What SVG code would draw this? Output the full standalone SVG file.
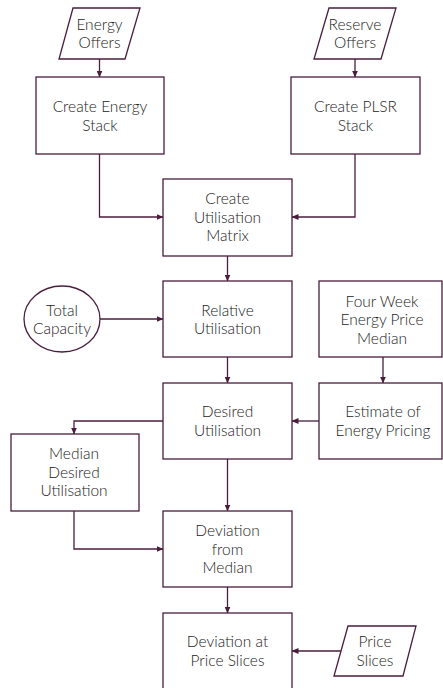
<svg xmlns="http://www.w3.org/2000/svg" width="443" height="688" viewBox="0 0 443 688">
<style>
.s{fill:#fff;stroke:#4a1d3d;stroke-width:1.3}
.c{fill:none;stroke:#4a1d3d;stroke-width:1.3}
text{font-family:Lato,"Open Sans","DejaVu Sans",sans-serif;font-weight:300;font-size:15.5px;fill:#222;text-anchor:middle}
</style>
<defs>
<marker id="a" markerWidth="7" markerHeight="6" refX="6.5" refY="3" orient="auto" markerUnits="userSpaceOnUse">
<path d="M0,0 L7,3 L0,6 Z" fill="#4a1d3d"/>
</marker>
</defs>
<rect width="443" height="688" fill="#fff"/>
<g id="connectors" class="c">
<path d="M99.5,59 V77" marker-end="url(#a)"/>
<path d="M355,59 V77" marker-end="url(#a)"/>
<path d="M99.5,154 V217 H163" marker-end="url(#a)"/>
<path d="M355,154 V217 H292" marker-end="url(#a)"/>
<path d="M227.5,256 V281" marker-end="url(#a)"/>
<path d="M100,319 H163" marker-end="url(#a)"/>
<path d="M227.5,357 V383" marker-end="url(#a)"/>
<path d="M383,357 V383" marker-end="url(#a)"/>
<path d="M319,421 H292" marker-end="url(#a)"/>
<path d="M163,421 H74 V434" marker-end="url(#a)"/>
<path d="M227.5,459 V511" marker-end="url(#a)"/>
<path d="M74,511 V549 H163" marker-end="url(#a)"/>
<path d="M227.5,587 V613" marker-end="url(#a)"/>
<path d="M341,651 H292" marker-end="url(#a)"/>
</g>
<g id="energy-offers"><polygon class="s" points="73,8 140,8 125,59 59,59"/><text x="99.5" y="29.5">Energy</text><text x="99.5" y="48">Offers</text></g>
<g id="reserve-offers"><polygon class="s" points="329,8 396,8 381,59 314,59"/><text x="355" y="29.5">Reserve</text><text x="355" y="48">Offers</text></g>
<g id="create-energy-stack"><rect class="s" x="36" y="77" width="128" height="77"/><text x="100" y="112">Create Energy</text><text x="100" y="130.5">Stack</text></g>
<g id="create-plsr-stack"><rect class="s" x="291" y="77" width="129" height="77"/><text x="355.5" y="112">Create PLSR</text><text x="355.5" y="130.5">Stack</text></g>
<g id="create-utilisation-matrix"><rect class="s" x="163" y="179" width="129" height="77"/><text x="227.5" y="204">Create</text><text x="227.5" y="222.5">Utilisation</text><text x="227.5" y="241">Matrix</text></g>
<g id="total-capacity"><ellipse class="s" cx="62" cy="319" rx="38" ry="33"/><text x="62" y="315.5">Total</text><text x="62" y="334">Capacity</text></g>
<g id="relative-utilisation"><rect class="s" x="163" y="281" width="129" height="76"/><text x="227.5" y="315.5">Relative</text><text x="227.5" y="334">Utilisation</text></g>
<g id="four-week-median"><rect class="s" x="319" y="281" width="123" height="76"/><text x="382" y="306.5">Four Week</text><text x="382" y="325">Energy Price</text><text x="382" y="343.5">Median</text></g>
<g id="desired-utilisation"><rect class="s" x="163" y="383" width="129" height="76"/><text x="227.5" y="417">Desired</text><text x="227.5" y="435.5">Utilisation</text></g>
<g id="estimate-energy-pricing"><rect class="s" x="319" y="383" width="123" height="76"/><text x="383" y="417">Estimate of</text><text x="383" y="435.5">Energy Pricing</text></g>
<g id="median-desired-utilisation"><rect class="s" x="11" y="434" width="128" height="77"/><text x="74" y="459">Median</text><text x="74" y="477.5">Desired</text><text x="74" y="496">Utilisation</text></g>
<g id="deviation-from-median"><rect class="s" x="163" y="511" width="129" height="76"/><text x="227.5" y="536">Deviation</text><text x="227.5" y="554.5">from</text><text x="227.5" y="573">Median</text></g>
<g id="deviation-price-slices"><rect class="s" x="163" y="613" width="129" height="77"/><text x="227.5" y="647">Deviation at</text><text x="227.5" y="665.5">Price Slices</text></g>
<g id="price-slices"><polygon class="s" points="348,626 416,626 403,676 334,676"/><text x="375" y="647">Price</text><text x="375" y="665.5">Slices</text></g>
</svg>
